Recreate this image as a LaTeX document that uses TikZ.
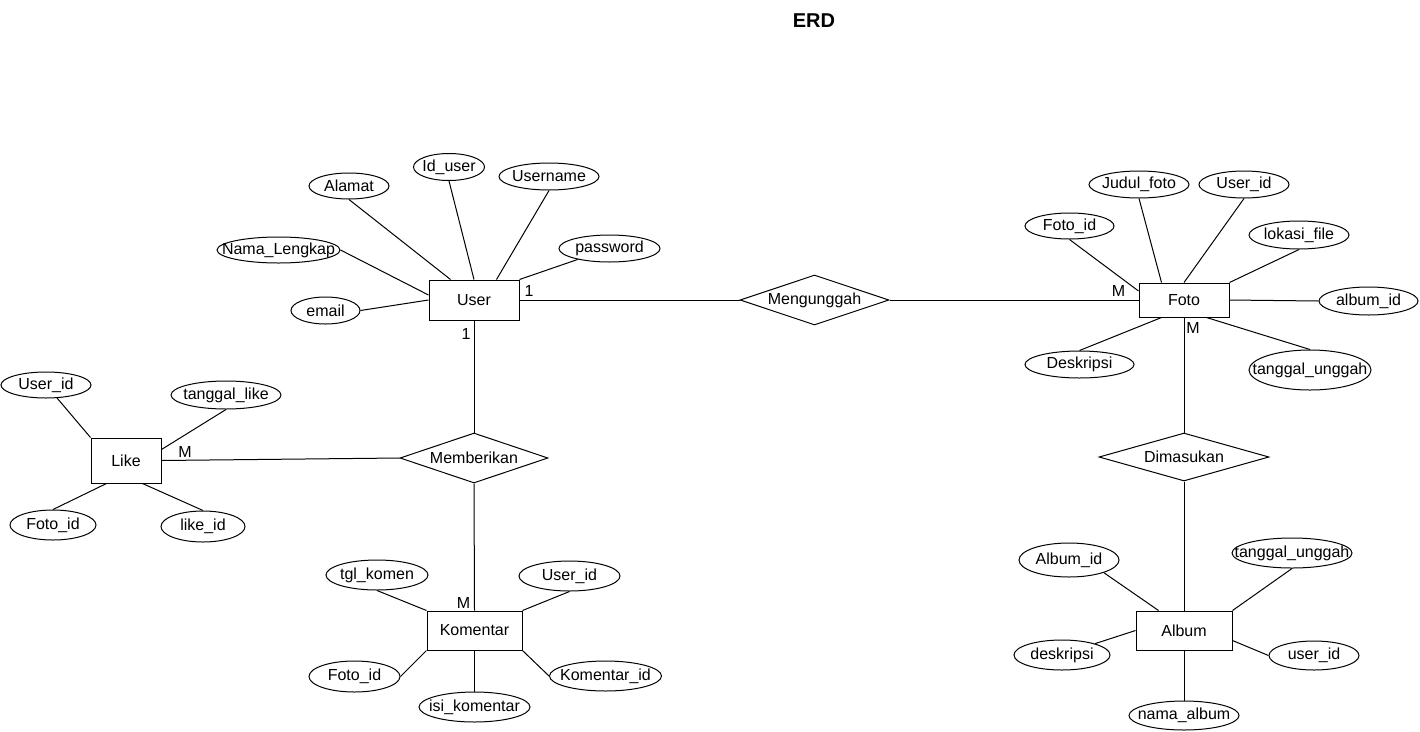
\documentclass[tikz,border=0pt]{standalone}
\usepackage{fontspec}
\setmainfont{Liberation Sans}
\usetikzlibrary{shapes.geometric,calc}
% zero-width label so that the outline size comes only from the minimum sizes
\newcommand{\zw}[1]{\makebox[0pt]{#1}}
\begin{document}
\begin{tikzpicture}[x=1pt,y=-1pt,
  every node/.style={font=\fontsize{16}{19}\selectfont},
  entity/.style 2 args={draw, rectangle, line width=1pt, inner sep=0pt, minimum width=#1, minimum height=#2},
  attr/.style 2 args={draw, ellipse, line width=1pt, inner sep=0pt, minimum width=#1, minimum height=#2},
  rel/.style 2 args={draw, diamond, line width=1pt, inner sep=0pt, minimum width=#1, minimum height=#2},
  card/.style={inner sep=0pt},
  link/.style={draw, line width=1pt}]

\fill[white] (0,0) rectangle (1420,731);
\useasboundingbox (0,0) rectangle (1420,731);

\node[font=\fontsize{20}{24}\selectfont\bfseries] (title) at (814,21) {ERD};

% ---------------- entities ----------------
\node[entity={90pt}{40pt}] (user) at (474,300) {User};
\node[entity={90pt}{34pt}] (foto) at (1184,300) {Foto};
\node[entity={70pt}{45pt}] (like) at (126,460.5) {Like};
\node[entity={95pt}{39pt}] (komentar) at (474.5,630.5) {Komentar};
\node[entity={96pt}{39pt}] (album) at (1184,630.5) {Album};

% ---------------- relationships ----------------
\node[rel={149pt}{50pt}] (mengunggah) at (814.5,300) {\zw{Mengunggah}};
\node[rel={148pt}{50pt}] (memberikan) at (474,458) {\zw{Memberikan}};
\node[rel={170pt}{48pt}] (dimasukan) at (1184,457) {\zw{Dimasukan}};

% ---------------- User attributes ----------------
\node[attr={80pt}{26pt}] (alamat) at (349,186) {\zw{Alamat}};
\node[attr={71pt}{27pt}] (iduser) at (449,167) {\zw{Id\_user}};
\node[attr={100pt}{27pt}] (username) at (549,176.5) {\zw{Username}};
\node[attr={123pt}{26pt}] (nama) at (278.5,250) {\zw{Nama\_Lengkap}};
\node[attr={101pt}{27pt}] (password) at (609.5,248.5) {\zw{password}};
\node[attr={69pt}{27pt}] (email) at (325.5,310.5) {\zw{email}};

% ---------------- Foto attributes ----------------
\node[attr={89pt}{26pt}] (fotoid) at (1069.5,226) {\zw{Foto\_id}};
\node[attr={100pt}{27pt}] (judul) at (1139,184.5) {\zw{Judul\_foto}};
\node[attr={90pt}{27pt}] (fuserid) at (1244,184.5) {\zw{User\_id}};
\node[attr={100pt}{28pt}] (lokasi) at (1299,235) {\zw{lokasi\_file}};
\node[attr={99pt}{28pt}] (albumid) at (1368.5,301) {\zw{album\_id}};
\node[attr={109pt}{27pt}] (deskripsi) at (1079.5,364.5) {\zw{Deskripsi}};
\node[attr={122pt}{40pt}] (ftanggal) at (1310,370) {\zw{tanggal\_unggah}};

% ---------------- Like attributes ----------------
\node[attr={90pt}{26pt}] (luser) at (46,385) {\zw{User\_id}};
\node[attr={110pt}{28pt}] (ltanggal) at (226,395) {\zw{tanggal\_like}};
\node[attr={86pt}{30pt}] (lfoto) at (53,525) {\zw{Foto\_id}};
\node[attr={84pt}{31pt}] (likeid) at (203,526.5) {\zw{like\_id}};

% ---------------- Komentar attributes ----------------
\node[attr={102pt}{30pt}] (tglkomen) at (377,575) {\zw{tgl\_komen}};
\node[attr={101pt}{30pt}] (kuser) at (569.5,576) {\zw{User\_id}};
\node[attr={91pt}{31pt}] (kfoto) at (354.5,676.5) {\zw{Foto\_id}};
\node[attr={112pt}{30pt}] (komid) at (605.5,676) {\zw{Komentar\_id}};
\node[attr={111pt}{30pt}] (isi) at (474.5,707) {\zw{isi\_komentar}};

% ---------------- Album attributes ----------------
\node[attr={100pt}{34pt}] (aalbumid) at (1069,560) {\zw{Album\_id}};
\node[attr={120pt}{30pt}] (atanggal) at (1292,553) {\zw{tanggal\_unggah}};
\node[attr={96pt}{30pt}] (adesk) at (1062,655) {\zw{deskripsi}};
\node[attr={90pt}{29pt}] (auser) at (1314,655.5) {\zw{user\_id}};
\node[attr={110pt}{29pt}] (anama) at (1184,715.5) {\zw{nama\_album}};

% ---------------- cardinalities ----------------
\node[card] (c1) at (529,291) {1};
\node[card] (c2) at (466,334) {1};
\node[card] (c3) at (1118.5,291) {M};
\node[card] (c4) at (1193,327.5) {M};
\node[card] (c5) at (185,452) {M};
\node[card] (c6) at (463.5,603) {M};

% ---------------- relationship lines ----------------
\path[link] (user.east) -- (mengunggah.west);
\path[link] (mengunggah.east) -- (foto.west);
\path[link] (user.south) -- (memberikan.north);
\path[link] (memberikan.south) -- (komentar.north);
\path[link] (like.east) -- (memberikan.west);
\path[link] (foto.south) -- (dimasukan.north);
\path[link] (dimasukan.south) -- (album.north);

% ---------------- User attribute lines ----------------
\path[link] (alamat.south) -- ($(user.north west)+(22,0)$);
\path[link] (iduser.south) -- (user.north);
\path[link] (username.south) -- ($(user.north west)+(68,0)$);
\path[link] (password) -- (user.north east);
\path[link] (nama.east) -- ($(user.west)+(0,-5)$);
\path[link] (email.east) -- (user.west);

% ---------------- Foto attribute lines ----------------
\path[link] (fotoid.south) -- ($(foto.west)+(0,-9)$);
\path[link] (judul.south) -- ($(foto.north west)+(23,0)$);
\path[link] (fuserid.south) -- (foto.north);
\path[link] (lokasi.south) -- (foto.north east);
\path[link] (foto.east) -- (albumid.west);
\path[link] (deskripsi.north) -- ($(foto.south west)+(23,0)$);
\path[link] (ftanggal.north) -- ($(foto.south west)+(68,0)$);

% ---------------- Like attribute lines ----------------
\path[link] (luser) -- (like.north west);
\path[link] (ltanggal.south) -- ($(like.east)+(0,-11)$);
\path[link] (lfoto.north) -- ($(like.south west)+(16,0)$);
\path[link] (likeid.north) -- ($(like.south west)+(52,0)$);

% ---------------- Komentar attribute lines ----------------
\path[link] (tglkomen.south) -- (komentar.north west);
\path[link] (kuser.south) -- (komentar.north east);
\path[link] (kfoto.east) -- (komentar.south west);
\path[link] (komid.west) -- (komentar.south east);
\path[link] (komentar.south) -- (isi.north);

% ---------------- Album attribute lines ----------------
\path[link] (aalbumid.-20) -- ($(album.north west)+(23,0)$);
\path[link] (atanggal.south) -- (album.north east);
\path[link] (adesk.19) -- (album.west);
\path[link] ($(album.east)+(0,10)$) -- (auser.west);
\path[link] (album.south) -- (anama.north);

\end{tikzpicture}
\end{document}
